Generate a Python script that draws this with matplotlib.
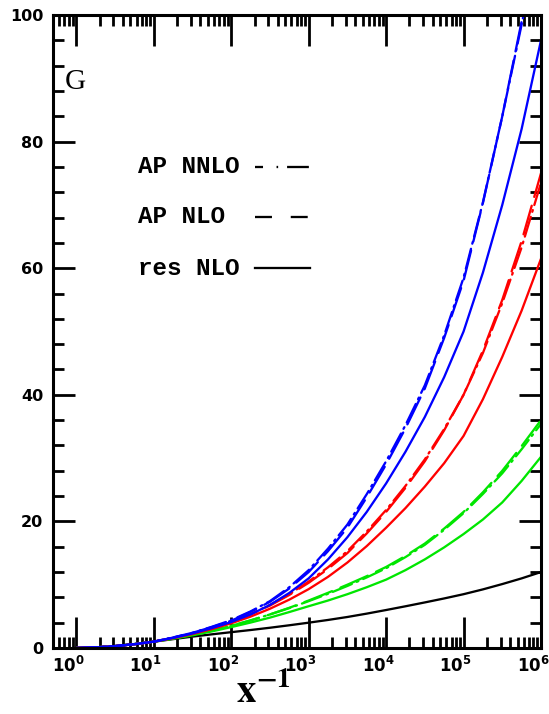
import matplotlib
matplotlib.use("Agg")
import matplotlib.pyplot as plt
import matplotlib.transforms as mtrans
from matplotlib.ticker import LogLocator, MultipleLocator, FixedLocator, NullFormatter
import numpy as np

# x^-1 values (quarter-decade grid)
xinv = [1.0, 1.778, 3.162, 5.623, 10.0, 17.78, 31.62, 56.23, 100.0, 177.8, 316.2, 562.3,
        1.0e3, 1.778e3, 3.162e3, 5.623e3, 1.0e4, 1.778e4, 3.162e4, 5.623e4,
        1.0e5, 1.778e5, 3.162e5, 5.623e5, 1.0e6]

black_res  = [0, 0.1, 0.3, 0.62, 1.0, 1.4, 1.8, 2.16, 2.5, 2.84, 3.2, 3.59, 4.0, 4.43, 4.9, 5.43,
              6.0, 6.59, 7.2, 7.83, 8.5, 9.26, 10.1, 11.0, 12.0]
green_res  = [0, 0.1, 0.3, 0.62, 1.0, 1.47, 2.0, 2.62, 3.3, 4.02, 4.8, 5.68, 6.6, 7.5, 8.5, 9.6,
              10.8, 12.3, 14.0, 15.9, 18.0, 20.3, 23.0, 26.4, 30.2]
green_nlo  = [0, 0.1, 0.3, 0.62, 1.0, 1.51, 2.1, 2.76, 3.5, 4.36, 5.3, 6.35, 7.5, 8.72, 10.0, 11.35,
              12.8, 14.54, 16.5, 18.87, 21.5, 24.6, 28.0, 31.9, 36.0]
green_nnlo = [0, 0.1, 0.3, 0.62, 1.0, 1.51, 2.1, 2.76, 3.5, 4.36, 5.3, 6.3, 7.4, 8.56, 9.8, 11.15,
              12.6, 14.36, 16.3, 18.68, 21.3, 24.33, 27.6, 31.4, 35.4]
red_res    = [0, 0.1, 0.3, 0.6, 1.0, 1.55, 2.2, 2.98, 3.9, 4.96, 6.2, 7.64, 9.3, 11.24, 13.5, 16.1,
              19.0, 22.1, 25.5, 29.2, 33.5, 39.3, 46.0, 53.3, 61.5]
red_nlo    = [0, 0.1, 0.3, 0.6, 1.0, 1.6, 2.3, 3.15, 4.1, 5.3, 6.7, 8.38, 10.3, 12.5, 15.0, 18.1,
              21.5, 25.3, 29.5, 34.4, 40.0, 47.0, 55.0, 64.3, 75.0]
red_nnlo   = [0, 0.1, 0.3, 0.6, 1.0, 1.6, 2.3, 3.15, 4.1, 5.35, 6.8, 8.5, 10.5, 12.75, 15.3, 18.4,
              21.8, 25.6, 29.8, 34.6, 40.0, 46.6, 54.5, 63.3, 73.5]
blue_res   = [0, 0.1, 0.3, 0.6, 1.0, 1.6, 2.3, 3.14, 4.1, 5.3, 6.8, 8.7, 11.0, 14.0, 17.5, 21.5,
              26.0, 31.0, 36.5, 42.8, 50.0, 59.3, 70.0, 82.0, 96.0]
blue_nlo   = [0, 0.1, 0.3, 0.6, 1.0, 1.65, 2.4, 3.3, 4.3, 5.7, 7.3, 9.4, 12.0, 15.3, 19.0, 23.8,
              29.0, 34.7, 41.0, 49.0, 58.0, 70.3, 84.0, 99.0, 115.0]
blue_nnlo  = [0, 0.1, 0.3, 0.6, 1.0, 1.67, 2.4, 3.35, 4.4, 5.78, 7.4, 9.6, 12.3, 15.7, 19.5, 24.3,
              29.5, 35.2, 41.5, 49.4, 58.5, 70.4, 84.0, 98.5, 114.0]

x_tick_vals = [1, 10, 100, 1e3, 1e4, 1e5, 1e6]
x_tick_labels = [r'$\mathbf{10^{%d}}$' % k for k in range(7)]
y_tick_vals = [0, 20, 40, 60, 80, 100]
legend_labels = ["AP NNLO", "AP NLO", "res NLO"]

BLUE = "#0000ff"
RED = "#ff0000"
GREEN = "#00e600"
BLACK = "#000000"

LS_RES = "-"
LS_NLO = (0, (13, 4))
LS_NNLO = (0, (9, 2.3, 0.8, 2.3))

fig = plt.figure(figsize=(5.49, 7.14), dpi=100)
ax = fig.add_axes([53/549, 1-648/714, 488/549, 633/714])

lw = 1.65
series = [
    (black_res, BLACK, LS_RES),
    (green_res, GREEN, LS_RES), (green_nlo, GREEN, LS_NLO), (green_nnlo, GREEN, LS_NNLO),
    (red_res, RED, LS_RES), (red_nlo, RED, LS_NLO), (red_nnlo, RED, LS_NNLO),
    (blue_res, BLUE, LS_RES), (blue_nlo, BLUE, LS_NLO), (blue_nnlo, BLUE, LS_NNLO),
]
for ys, c, ls in series:
    ax.plot(xinv, ys, color=c, linestyle=ls, lw=lw, solid_capstyle='round',
            dash_capstyle='round', solid_joinstyle='round')

ax.set_xscale('log')
ax.set_xlim(0.5, 1e6)
ax.set_ylim(0, 100)

ax.xaxis.set_major_locator(FixedLocator(x_tick_vals))
ax.set_xticklabels(x_tick_labels)
ax.xaxis.set_minor_locator(LogLocator(base=10, subs=np.arange(2, 10), numticks=20))
ax.xaxis.set_minor_formatter(NullFormatter())
ax.yaxis.set_major_locator(FixedLocator(y_tick_vals))
ax.set_yticklabels([str(v) for v in y_tick_vals])
ax.yaxis.set_minor_locator(MultipleLocator(4))

ax.tick_params(which='both', direction='in', top=True, right=True, width=2, colors='black')
ax.tick_params(which='major', length=16)
ax.tick_params(which='minor', length=8)
ax.tick_params(axis='x', which='major', length=22, pad=6)
ax.tick_params(axis='y', which='major', pad=7)
offset = mtrans.ScaledTranslation(-8/100, 0, fig.dpi_scale_trans)
for lab in ax.get_xticklabels():
    lab.set_fontsize(12)
    lab.set_transform(lab.get_transform() + offset)
for lab in ax.get_yticklabels():
    lab.set_fontsize(11.5)
    lab.set_fontweight('bold')
for s in ax.spines.values():
    s.set_linewidth(2.2)

fig.text(263/549, 1-692/714, r'$\mathbf{x^{-1}}$', fontsize=28, ha='center', va='center',
         math_fontfamily='stix')

ax.text(0.025, 0.894, "G", fontsize=21, family='Liberation Serif', ha='left', va='center',
        transform=ax.transAxes)

leg_y = [0.760, 0.681, 0.600]
leg_ls = [(0, (3.5, 5.9, 0.7, 3.9, 9.5, 100)), (0, (7.4, 8.2)), "-"]
for txt, yy, ls in zip(legend_labels, leg_y, leg_ls):
    ax.text(0.174, yy, txt, fontsize=17.5, family='Liberation Mono', fontweight='bold',
            ha='left', va='center', transform=ax.transAxes)
    ax.plot([0.414, 0.527], [yy, yy], color='black', lw=lw, linestyle=ls, transform=ax.transAxes)

fig.savefig("out.png", dpi=100)
